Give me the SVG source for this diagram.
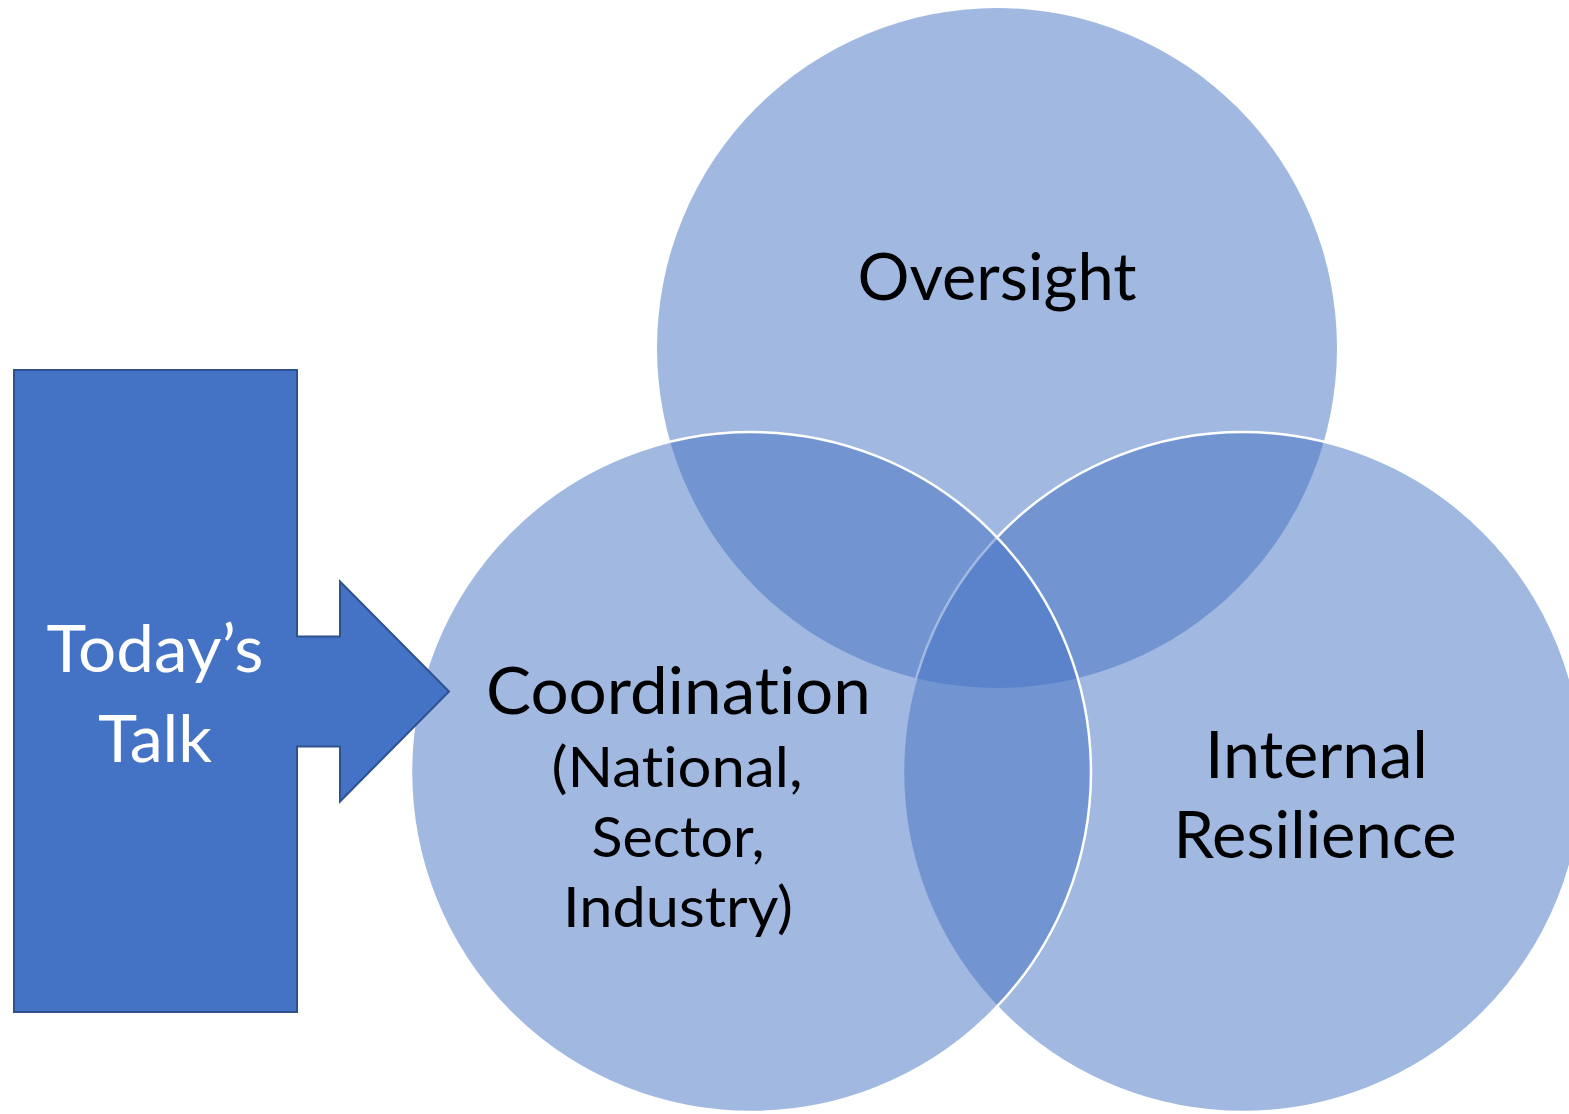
<svg xmlns="http://www.w3.org/2000/svg" width="1569" height="1114" viewBox="0 0 1569 1114">
  <style>
    .venn { fill: #4472C4; fill-opacity: 0.5; }
    .stroked { stroke: #FFFFFF; stroke-width: 2.5; }
    .lbl { font-family: Lato, "Noto Sans", "Liberation Sans", sans-serif; fill: #000000; text-anchor: middle; font-variant-ligatures: none; font-feature-settings: "liga" 0, "clig" 0, "dlig" 0; }
    .big { font-size: 65px; }
    .small { font-size: 56px; }
    .white { fill: #FFFFFF; }
    .talk { fill: #4472C4; stroke: #2F528F; stroke-width: 2; }
  </style>
  <rect width="1569" height="1114" fill="#FFFFFF"/>
  <g id="oversight">
    <circle class="venn" cx="997" cy="348" r="340"/>
  </g>
  <g id="internal-resilience">
    <circle class="venn stroked" cx="1243" cy="772" r="340"/>
  </g>
  <g id="coordination">
    <circle class="venn stroked" cx="751" cy="772" r="340"/>
  </g>
  <g id="todays-talk">
    <path class="talk" d="M14,370 H297 V636.5 H340 V581.5 L449,691.5 L340,801.5 V746.5 H297 V1012 H14 Z"/>
    <text class="lbl big white" x="155" y="672" textLength="217" lengthAdjust="spacingAndGlyphs">Today’s</text>
    <text class="lbl big white" x="155" y="762" textLength="114" lengthAdjust="spacingAndGlyphs">Talk</text>
  </g>
  <g id="labels">
    <text class="lbl big" x="997" y="300" textLength="279" lengthAdjust="spacingAndGlyphs">Oversight</text>
    <text class="lbl big" x="678.5" y="714" textLength="385" lengthAdjust="spacingAndGlyphs">Coordination</text>
    <text class="lbl small" x="677" y="787" textLength="251" lengthAdjust="spacingAndGlyphs">(National,</text>
    <text class="lbl small" x="678" y="857" textLength="173" lengthAdjust="spacingAndGlyphs">Sector,</text>
    <text class="lbl small" x="678" y="927" textLength="230" lengthAdjust="spacingAndGlyphs">Industry)</text>
    <text class="lbl big" x="1316.5" y="778" textLength="223" lengthAdjust="spacingAndGlyphs">Internal</text>
    <text class="lbl big" x="1315" y="858" textLength="283" lengthAdjust="spacingAndGlyphs">Resilience</text>
  </g>
  <g id="connectors"></g>
</svg>
